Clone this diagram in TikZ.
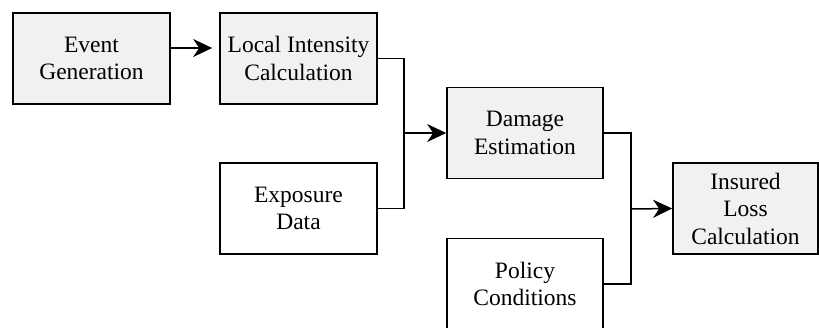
\documentclass[tikz,border=0pt]{standalone}
\usepackage{fontspec}
\setmainfont{Liberation Serif}
\newfontfamily\tnr{Liberation Serif}
\usetikzlibrary{arrows.meta}
\tikzset{
  box/.style={draw=black, line width=1.7pt, minimum height=91pt, inner sep=0pt, align=center,
    font=\tnr\fontsize{23.5}{27.5}\selectfont},
  shaded/.style={box, fill=gray!11},
  plain/.style={box, fill=white},
  wire/.style={line width=1.5pt},
  arr/.style={wire, -{Stealth[length=19pt, width=18pt, inset=6pt]}},
}
\begin{document}
\begin{tikzpicture}[x=1pt, y=-1pt]
\useasboundingbox (0,0) rectangle (819,327);
\node[shaded, minimum width=157pt] (ev) at (91.5,58.5) {Event\\Generation};
\node[shaded, minimum width=157pt] (li) at (298.5,58.5) {Local Intensity\\Calculation};
\node[plain, minimum width=157pt] (ex) at (298.5,208.5) {Exposure\\Data};
\node[shaded, minimum width=156pt] (dm) at (525,133) {Damage\\Estimation};
\node[plain, minimum width=156pt] (pc) at (525,284) {Policy\\Conditions};
\node[shaded, minimum width=145pt] (ins) at (745.5,208.5) {Insured\\Loss\\Calculation};
\coordinate (j1) at (404,133);
\coordinate (j2) at (631,209);
\draw[arr] ([yshift=10.5pt]ev.east) -- ([xshift=-7pt,yshift=10.5pt]li.west);
\draw[wire] (li.east) -| (j1);
\draw[wire] (ex.east) -| (j1);
\draw[arr] (j1) -- (dm.west);
\draw[wire] (dm.east) -| (j2);
\draw[wire] (pc.east) -| (j2);
\draw[arr] (j2) -- (ins.west);
\end{tikzpicture}
\end{document}
